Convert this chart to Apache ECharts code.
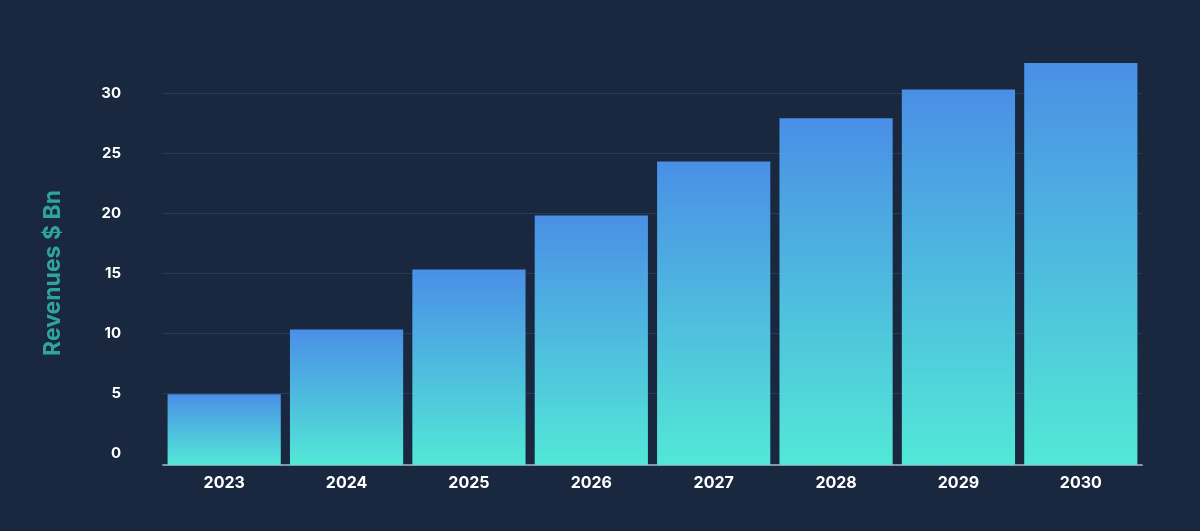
<!DOCTYPE html>
<html>
<head>
<meta charset="utf-8">
<script src="https://cdn.jsdelivr.net/npm/echarts@6/dist/echarts.min.js"></script>
<style>
html,body{margin:0;padding:0;background:#19283f;}
#c{width:1200px;height:531px;}
</style>
</head>
<body>
<div id="c"></div>
<script>
const categories = ['2023','2024','2025','2026','2027','2028','2029','2030'];
const revenues = [4.9, 10.3, 15.3, 19.8, 24.3, 27.9, 30.3, 32.5];
const yTicks = [0, 5, 10, 15, 20, 25, 30];
const axisName = 'Revenues $ Bn';

const chart = echarts.init(document.getElementById('c'), null, {renderer: 'canvas'});
const gridColor = '#243d5c';
const option = {
  backgroundColor: '#19283f',
  animation: false,
  grid: [
    {left: 163, right: 58, top: 33, bottom: 66},
    {left: 163, right: 58, top: 93, bottom: 78}
  ],
  xAxis: [
    {
      type: 'category', gridIndex: 0, data: categories,
      axisLine: {show: true, onZero: false, lineStyle: {color: '#8795a6', width: 2}},
      axisTick: {show: false},
      axisLabel: {color: '#ffffff', fontSize: 16, fontWeight: 'bold', fontFamily: 'Inter', margin: 10}
    },
    {type: 'category', gridIndex: 1, data: categories, show: false}
  ],
  yAxis: [
    {
      type: 'value', gridIndex: 0, min: -1, max: 35, startValue: -1,
      axisLabel: {show: false}, splitLine: {show: false}, axisLine: {show: false}, axisTick: {show: false}
    },
    {
      type: 'value', gridIndex: 1, min: yTicks[0], max: yTicks[yTicks.length - 1], interval: 5,
      name: axisName, nameLocation: 'middle', nameGap: 98, nameRotate: 90,
      nameTextStyle: {color: '#2fa39d', fontSize: 23, fontWeight: 'bold', fontFamily: 'Inter'},
      axisLine: {show: false}, axisTick: {show: false},
      axisLabel: {color: '#ffffff', fontSize: 15, fontWeight: 'bold', fontFamily: 'Inter', margin: 42, align: 'right'},
      splitLine: {show: true, lineStyle: {color: ['rgba(0,0,0,0)', gridColor, gridColor, gridColor, gridColor, gridColor, gridColor], width: 1}}
    }
  ],
  series: [{
    type: 'bar', xAxisIndex: 0, yAxisIndex: 0,
    data: revenues,
    barCategoryGap: '7.5%',
    itemStyle: {
      color: new echarts.graphic.LinearGradient(0, 0, 0, 1, [
        {offset: 0, color: '#4a8fe6'},
        {offset: 1, color: '#52e8d6'}
      ])
    }
  }]
};
chart.setOption(option);
</script>
</body>
</html>
